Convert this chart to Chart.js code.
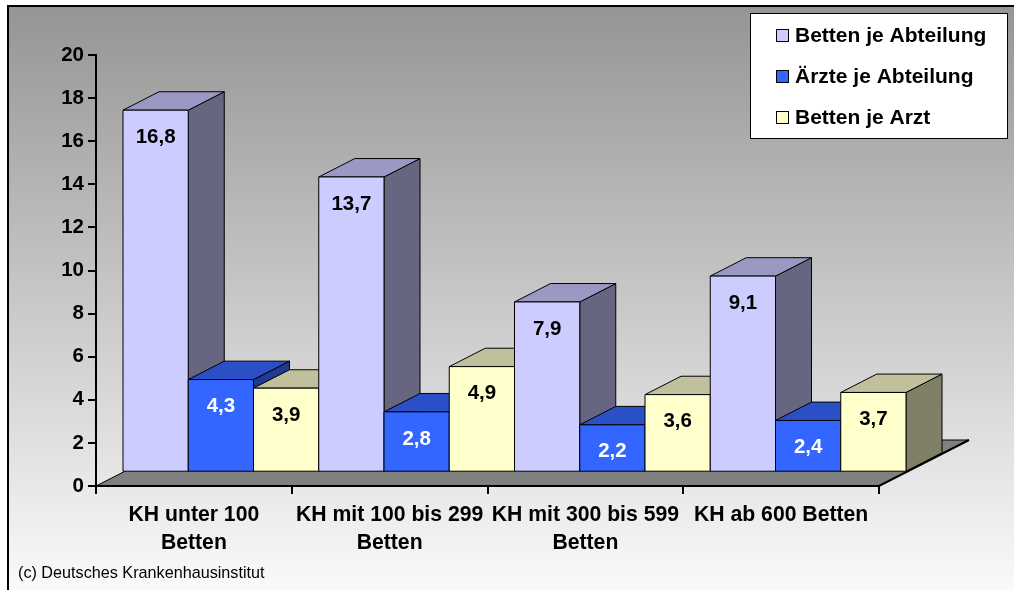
<!DOCTYPE html>
<html>
<head>
<meta charset="utf-8">
<script src="https://cdn.jsdelivr.net/npm/chart.js@4/dist/chart.umd.min.js"></script>
<style>
  html, body { margin: 0; padding: 0; background: #fff; }
  canvas { display: block; }
</style>
</head>
<body>
<canvas id="c" width="1014" height="590"></canvas>
<script>
// ---- data ----
const categories = [
  ["KH unter 100", "Betten"],
  ["KH mit 100 bis 299", "Betten"],
  ["KH mit 300 bis 599", "Betten"],
  "KH ab 600 Betten"
];
const seriesNames = ["Betten je Abteilung", "Ärzte je Abteilung", "Betten je Arzt"];
const bettenJeAbteilung = [16.8, 13.7, 7.9, 9.1];
const aerzteJeAbteilung = [4.3, 2.8, 2.2, 2.4];
const bettenJeArzt = [3.9, 4.9, 3.6, 3.7];
const yMin = 0, yMax = 20, yStep = 2;
const sourceText = "(c) Deutsches Krankenhausinstitut";

// ---- styles ----
const FONT = "'Liberation Sans', Arial, sans-serif";
const frontColors = ["#CCCCFF", "#3366FF", "#FFFFCC"];
const topColors   = ["#9999C4", "#2A4FC6", "#C0C09C"];
const sideColors  = ["#666680", "#1E3A92", "#808066"];
const labelColors = ["#000000", "#FFFFFF", "#000000"];
const DEPTH_X = 90, DEPTH_Y = -46;      // floor depth vector
const BAR_FRONT = 0.3, BAR_BACK = 0.7;  // bar position inside depth

const bg = {
  id: 'bg',
  beforeDraw(chart) {
    const ctx = chart.ctx;
    ctx.save();
    ctx.fillStyle = '#ffffff';
    ctx.fillRect(0, 0, chart.width, chart.height);
    const g = ctx.createLinearGradient(0, 6, 0, 620);
    g.addColorStop(0, '#959595');
    g.addColorStop(1, '#ffffff');
    ctx.fillStyle = g;
    ctx.fillRect(8, 6, chart.width, chart.height);
    ctx.strokeStyle = '#000';
    ctx.lineWidth = 2;
    ctx.beginPath();
    ctx.moveTo(8, chart.height + 2);
    ctx.lineTo(8, 6);
    ctx.lineTo(chart.width + 2, 6);
    ctx.stroke();
    ctx.restore();
  }
};

const bars3d = {
  id: 'bars3d',
  beforeDatasetsDraw(chart) {
    const ctx = chart.ctx;
    const xs = chart.scales.x, ys = chart.scales.y;
    const y0 = ys.getPixelForValue(0);
    ctx.save();
    // y axis slight extension below the floor
    ctx.strokeStyle = '#000';
    ctx.lineWidth = 2;
    ctx.beginPath();
    ctx.moveTo(xs.left, y0);
    ctx.lineTo(xs.left, y0 + 4);
    ctx.stroke();
    // floor
    ctx.beginPath();
    ctx.moveTo(xs.left, y0);
    ctx.lineTo(xs.right, y0);
    ctx.lineTo(xs.right + DEPTH_X, y0 + DEPTH_Y);
    ctx.lineTo(xs.left + DEPTH_X, y0 + DEPTH_Y);
    ctx.closePath();
    ctx.fillStyle = '#808080';
    ctx.fill();
    ctx.lineWidth = 1;
    ctx.stroke();
    ctx.lineWidth = 2;
    ctx.beginPath();
    ctx.moveTo(xs.left, y0);
    ctx.lineTo(xs.right, y0);
    ctx.lineTo(xs.right + DEPTH_X, y0 + DEPTH_Y);
    ctx.stroke();

    const ox = DEPTH_X * BAR_FRONT, oy = DEPTH_Y * BAR_FRONT;
    const dx = DEPTH_X * (BAR_BACK - BAR_FRONT), dy = DEPTH_Y * (BAR_BACK - BAR_FRONT);
    const n = chart.data.labels.length;
    const labels = [];
    ctx.lineWidth = 1;
    ctx.lineJoin = 'miter';
    for (let i = 0; i < n; i++) {
      chart.data.datasets.forEach((ds, j) => {
        const el = chart.getDatasetMeta(j).data[i];
        const L = el.x - el.width / 2 + ox, R = el.x + el.width / 2 + ox;
        const T = el.y + oy, B = el.base + oy;
        const poly = (pts, fill) => {
          ctx.beginPath();
          ctx.moveTo(pts[0][0], pts[0][1]);
          for (let k = 1; k < pts.length; k++) ctx.lineTo(pts[k][0], pts[k][1]);
          ctx.closePath();
          ctx.fillStyle = fill;
          ctx.fill();
          ctx.strokeStyle = '#000';
          ctx.stroke();
        };
        poly([[R, T], [R + dx, T + dy], [R + dx, B + dy], [R, B]], sideColors[j]);
        poly([[L, T], [R, T], [R + dx, T + dy], [L + dx, T + dy]], topColors[j]);
        poly([[L, T], [R, T], [R, B], [L, B]], frontColors[j]);
        labels.push({x: (L + R) / 2, y: T + 27, text: ds.data[i].toFixed(1).replace('.', ','), color: labelColors[j]});
      });
    }
    ctx.font = "bold 20.5px " + FONT;
    ctx.textAlign = 'center';
    ctx.textBaseline = 'middle';
    labels.forEach(l => { ctx.fillStyle = l.color; ctx.fillText(l.text, l.x, l.y); });

    // legend
    ctx.fillStyle = '#fff';
    ctx.fillRect(750, 13, 257, 125);
    ctx.strokeStyle = '#000';
    ctx.lineWidth = 1;
    ctx.strokeRect(750.5, 13.5, 257, 125);
    ctx.textAlign = 'left';
    ctx.font = "bold 21px " + FONT;
    chart.data.datasets.forEach((ds, j) => {
      const cy = 35 + j * 41;
      ctx.fillStyle = frontColors[j];
      ctx.fillRect(776, cy - 6, 12, 12);
      ctx.strokeRect(776.5, cy - 5.5, 12, 12);
      ctx.fillStyle = '#000';
      ctx.fillText(ds.label, 795, cy + 1);
    });

    // source
    ctx.font = "16.2px " + FONT;
    ctx.fillStyle = '#000';
    ctx.fillText(sourceText, 18, 574);
    ctx.restore();
    return false;
  }
};

const tickFont = {family: FONT, size: 20.5, weight: 'bold'};
new Chart(document.getElementById('c'), {
  type: 'bar',
  data: {
    labels: categories,
    datasets: [
      {label: seriesNames[0], data: bettenJeAbteilung, backgroundColor: frontColors[0]},
      {label: seriesNames[1], data: aerzteJeAbteilung, backgroundColor: frontColors[1]},
      {label: seriesNames[2], data: bettenJeArzt, backgroundColor: frontColors[2]}
    ]
  },
  options: {
    responsive: false,
    animation: false,
    devicePixelRatio: 1,
    layout: {padding: {left: 0, top: 55, right: 135, bottom: 0}},
    datasets: {bar: {barPercentage: 1, categoryPercentage: 1}},
    plugins: {legend: {display: false}, tooltip: {enabled: false}},
    scales: {
      x: {
        offset: true,
        grid: {display: true, offset: true, drawOnChartArea: false, drawTicks: true, tickLength: 8, color: '#000', lineWidth: 2},
        border: {display: true, color: '#000', width: 2},
        ticks: {font: {family: FONT, size: 21.2, weight: 'bold', lineHeight: 1.32}, color: '#000', maxRotation: 0, minRotation: 0, autoSkip: false, padding: 7},
        afterFit(s) { s.height = 104; }
      },
      y: {
        min: yMin, max: yMax,
        grid: {display: true, drawOnChartArea: false, drawTicks: true, tickLength: 8, color: '#000', lineWidth: 2},
        border: {display: true, color: '#000', width: 2},
        ticks: {stepSize: yStep, font: tickFont, color: '#000', padding: 4},
        afterFit(s) { s.width = 96; }
      }
    }
  },
  plugins: [bg, bars3d]
});
</script>
</body>
</html>
